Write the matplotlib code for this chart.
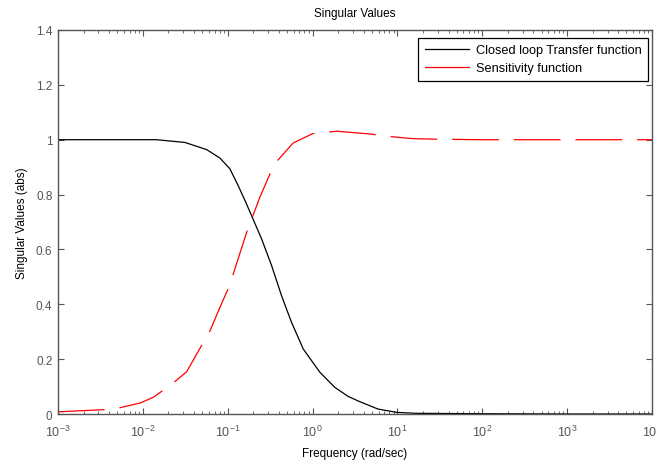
import matplotlib
matplotlib.use('Agg')
import matplotlib.pyplot as plt
from matplotlib.ticker import LogLocator, FormatStrFormatter, NullFormatter

plt.rcParams['font.family'] = ['Liberation Sans', 'DejaVu Sans']
plt.rcParams['mathtext.fontset'] = 'custom'
plt.rcParams['mathtext.rm'] = 'Liberation Sans'
plt.rcParams['mathtext.it'] = 'Liberation Sans'
plt.rcParams['lines.scale_dashes'] = False

# Closed loop transfer function
freq_T = [0.001, 0.0145, 0.0313, 0.0564, 0.081, 0.106, 0.133, 0.160, 0.191, 0.251,
          0.329, 0.431, 0.565, 0.776, 1.22, 1.83, 2.63, 3.6, 5.9, 9.8, 16.5,
          100, 1000, 10000]
sv_T = [1.0, 1.0, 0.990, 0.964, 0.933, 0.894, 0.832, 0.778, 0.723, 0.638,
        0.541, 0.431, 0.334, 0.237, 0.152, 0.097, 0.064, 0.045, 0.018, 0.006, 0.0025,
        0.001, 0.0, 0.0]

# Sensitivity function
freq_S = [0.001, 0.00358, 0.00537, 0.00925, 0.0133, 0.0228, 0.0328, 0.049, 0.062, 0.081,
          0.101, 0.116, 0.167, 0.239, 0.314, 0.376, 0.59, 1.0, 1.92, 4.7, 7.85, 15, 27,
          100, 1000, 10000]
sv_S = [0.008, 0.016, 0.023, 0.040, 0.061, 0.113, 0.154, 0.249, 0.304, 0.389,
        0.456, 0.510, 0.662, 0.790, 0.875, 0.920, 0.988, 1.022, 1.031, 1.021, 1.012, 1.004,
        1.002, 1.0, 1.0, 1.0]

grey = '#555555'

fig = plt.figure(figsize=(6.57, 4.64), dpi=100)
ax = fig.add_axes([0.0883, 0.1056, 0.9041, 0.8276])

ax.plot(freq_T, sv_T, color='black', linewidth=0.9)
ax.plot(freq_S, sv_S, color='red', linewidth=0.9, dashes=(33.6, 10.8))

ax.set_xscale('log')
ax.set_xlim(1e-3, 1e4)
ax.set_ylim(0, 1.4)
ax.set_yticks([0, 0.2, 0.4, 0.6, 0.8, 1.0, 1.2, 1.4])
ax.yaxis.set_major_formatter(FormatStrFormatter('%g'))
ax.xaxis.set_major_locator(LogLocator(base=10, numticks=20))
ax.xaxis.set_minor_locator(LogLocator(base=10, subs=range(2, 10), numticks=20))
ax.xaxis.set_minor_formatter(NullFormatter())

ax.tick_params(which='both', direction='in', top=True, right=True,
               color=grey, labelcolor=grey, labelsize=8.5)
ax.tick_params(which='major', length=4.5, width=0.8, pad=4)
ax.tick_params(which='minor', length=2.5, width=0.6)
ax.tick_params(axis='x', which='major', pad=7, labelsize=9)
for sp in ax.spines.values():
    sp.set_color(grey)
    sp.set_linewidth(1.0)

ax.set_title('Singular Values', fontsize=8.5, pad=10)
ax.set_xlabel('Frequency (rad/sec)', fontsize=8.5, labelpad=6)
ax.set_ylabel('Singular Values (abs)', fontsize=8.5, labelpad=6)

# legend shows solid line samples
leg_T, = ax.plot([], [], color='black', linewidth=0.9)
leg_S, = ax.plot([], [], color='red', linewidth=0.9)
leg = ax.legend([leg_T, leg_S], ['Closed loop Transfer function', 'Sensitivity function'],
                loc='upper right', bbox_to_anchor=(648 / 657, 1 - 39 / 464),
                bbox_transform=fig.transFigure, borderaxespad=0,
                fontsize=9.2, handlelength=3.5, handletextpad=0.5, fancybox=False,
                framealpha=1, edgecolor='black', labelspacing=0.45, borderpad=0.5)
leg.get_frame().set_linewidth(0.9)

plt.savefig('out.png', dpi=100)
